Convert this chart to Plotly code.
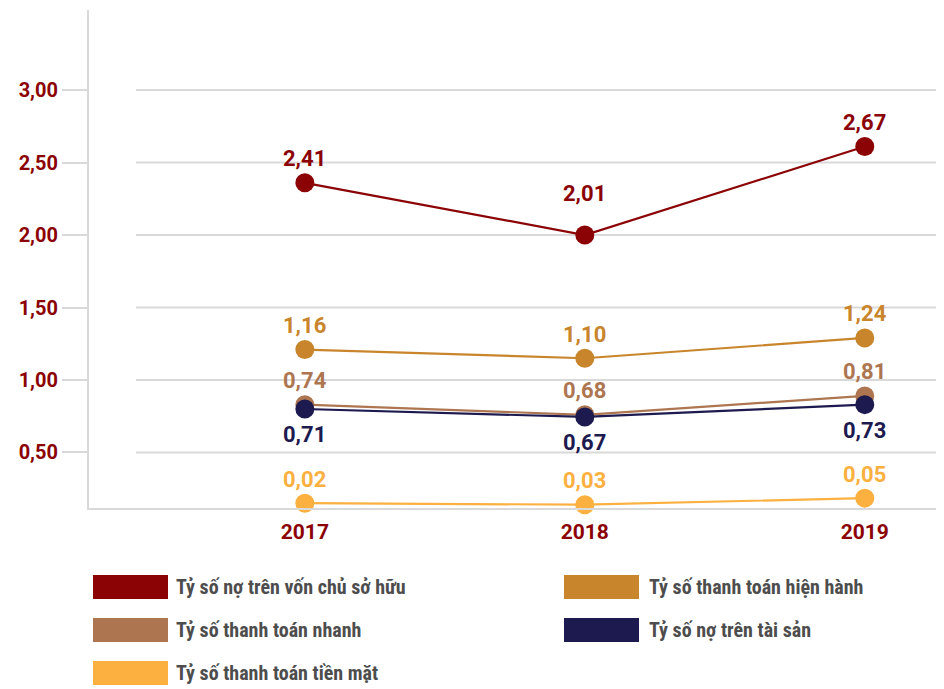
import plotly.graph_objects as go

# ---- data ----
years = ["2017", "2018", "2019"]
series_names = [
    "Tỷ số nợ trên vốn chủ sở hữu",
    "Tỷ số thanh toán hiện hành",
    "Tỷ số thanh toán nhanh",
    "Tỷ số nợ trên tài sản",
    "Tỷ số thanh toán tiền mặt",
]
# plotted positions
no_von = [2.36, 2.00, 2.61]
hien_hanh = [1.21, 1.15, 1.29]
nhanh = [0.83, 0.76, 0.89]
no_ts = [0.80, 0.745, 0.83]
tien_mat = [0.15, 0.14, 0.185]
# printed data labels
lbl_no_von = [2.41, 2.01, 2.67]
lbl_hien_hanh = [1.16, 1.10, 1.24]
lbl_nhanh = [0.74, 0.68, 0.81]
lbl_no_ts = [0.71, 0.67, 0.73]
lbl_tien_mat = [0.02, 0.03, 0.05]
y_ticks = [0.5, 1.0, 1.5, 2.0, 2.5, 3.0]

colors = ["#8B0304", "#C9852C", "#AD7650", "#1C1A4E", "#FBB040"]
values = [no_von, hien_hanh, nhanh, no_ts, tien_mat]
labels = [lbl_no_von, lbl_hien_hanh, lbl_nhanh, lbl_no_ts, lbl_tien_mat]

# label placement (layout styling): above the point, except series 3 below
label_side = [1, 1, 1, -1, 1]
extra_shift = {(0, 1): 18}  # the 2018 label of series 0 sits higher

NUM_FONT = "Roboto, sans-serif"
LEG_FONT = "Liberation Sans Narrow, Roboto Condensed, Roboto, sans-serif"
OFF = 8  # page body margin
W, H = 944 - OFF, 689 - OFF
L, R, T, B = 89 - OFF, 0, 10 - OFF, 689 - 508
ph = H - T - B
pw = W - L - R

fig = go.Figure()
annotations = []
for i in [0, 1, 2, 4, 3]:
    fig.add_trace(go.Scatter(
        x=years, y=values[i], name=series_names[i],
        mode="lines+markers",
        line=dict(color=colors[i], width=2.2),
        marker=dict(color=colors[i], size=19),
        showlegend=False, cliponaxis=False,
    ))
    for j in range(len(years)):
        shift = (24 if label_side[i] > 0 else -26) + extra_shift.get((i, j), 0)
        annotations.append(dict(
            x=j, y=values[i][j], xref="x", yref="y",
            text=f"{labels[i][j]:.2f}".replace(".", ","),
            showarrow=False, yshift=shift, xanchor="center", yanchor="middle",
            font=dict(family=NUM_FONT, size=22, color=colors[i], weight="bold"),
        ))

def py(p):  # page pixel -> paper
    return (689 - B - p) / ph

def px(p):
    return (p - 89) / pw

shapes = []
for t in y_ticks:
    shapes.append(dict(type="line", xref="paper", yref="y", x0=px(136), x1=1,
                       y0=t, y1=t, line=dict(color="#D9D9D9", width=2), layer="below"))

leg_order = [(0, 93, 174, 587), (2, 93, 174, 630), (4, 93, 174, 673),
             (1, 564, 647, 587), (3, 564, 647, 630)]
for idx, x0, tx, yc in leg_order:
    shapes.append(dict(type="rect", xref="paper", yref="paper",
                       x0=px(x0), x1=px(x0 + 75), y0=py(yc - 12), y1=py(yc + 12),
                       fillcolor=colors[idx], line=dict(width=0)))
    annotations.append(dict(xref="paper", yref="paper", x=px(tx), y=py(yc),
                            text=series_names[idx], showarrow=False,
                            xanchor="left", yanchor="middle",
                            font=dict(family=LEG_FONT, size=20, color="#4D4D4D", weight="bold")))

fig.update_layout(
    width=W, height=H,
    margin=dict(l=L, r=R, t=T, b=B),
    paper_bgcolor="white", plot_bgcolor="white",
    shapes=shapes, annotations=annotations,
    xaxis=dict(type="category", range=[-0.771, 2.283], showgrid=False, zeroline=False,
               showline=True, linecolor="#D9D9D9", linewidth=2,
               ticks="", ticklabelstandoff=4,
               tickfont=dict(family=NUM_FONT, size=21, color="#8B0304", weight="bold")),
    yaxis=dict(range=[0.117, 3.552], tickvals=y_ticks,
               ticktext=[f"{t:.2f}".replace(".", ",") for t in y_ticks],
               showgrid=False, zeroline=False,
               showline=True, linecolor="#D9D9D9", linewidth=2,
               ticks="outside", ticklen=25, tickcolor="#D9D9D9", tickwidth=2,
               tickfont=dict(family=NUM_FONT, size=20, color="#8B0304", weight="bold")),
)

fig.write_html("out.html")
